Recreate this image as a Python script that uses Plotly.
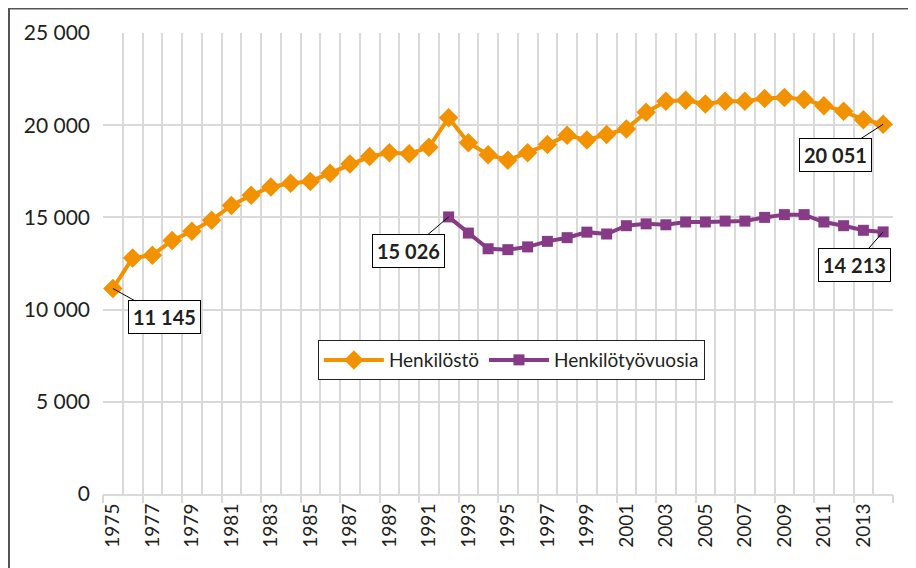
import plotly.graph_objects as go

years = list(range(1975, 2015))
henkilosto = [11145, 12800, 12950, 13750, 14250, 14850, 15650, 16200, 16650, 16850,
              16950, 17400, 17900, 18300, 18500, 18450, 18800, 20400, 19050, 18400,
              18100, 18500, 18950, 19450, 19200, 19500, 19800, 20700, 21300, 21350,
              21150, 21300, 21300, 21450, 21500, 21400, 21050, 20750, 20300, 20051]
tyovuosi_years = list(range(1992, 2015))
henkilotyovuosia = [15026, 14150, 13300, 13250, 13400, 13700, 13900, 14200, 14100, 14550,
                    14650, 14600, 14750, 14750, 14800, 14800, 15000, 15150, 15150, 14750,
                    14550, 14300, 14213]
tick_years = list(range(1975, 2014, 2))
y_ticks = [0, 5000, 10000, 15000, 20000, 25000]

ORANGE = "#F39200"
PURPLE = "#873B86"
GRID = "#D9D9D9"
TXT = "#231F20"
FONT = "Lato"

def fmt(v):
    return f"{v:,}".replace(",", " ")

fig = go.Figure()
fig.add_trace(go.Scatter(x=years, y=henkilosto, name="Henkilöstö", mode="lines+markers",
                         line=dict(color=ORANGE, width=4),
                         marker=dict(symbol="diamond", size=15, color=ORANGE)))
fig.add_trace(go.Scatter(x=tyovuosi_years, y=henkilotyovuosia, name="Henkilötyövuosia",
                         mode="lines+markers",
                         line=dict(color=PURPLE, width=4),
                         marker=dict(symbol="square", size=11, color=PURPLE)))

xrange = [years[0] - 0.5, years[-1] + 0.5]

ann = [
    (years[0], henkilosto[0], 52, 29),
    (tyovuosi_years[0], henkilotyovuosia[0], -40, 34),
    (years[-1], henkilosto[-1], -48, 31),
    (tyovuosi_years[-1], henkilotyovuosia[-1], -29, 33),
]
annotations = []
for x, y, ax, ay in ann:
    annotations.append(dict(x=x, y=y, xref="x", yref="y", text="<b>" + fmt(y) + "</b>",
                            showarrow=True, arrowhead=0, arrowwidth=1, arrowcolor="#000",
                            ax=ax, ay=ay, bgcolor="white", bordercolor="#000",
                            borderwidth=1, borderpad=4,
                            font=dict(family=FONT, size=20, color=TXT)))

fig.update_layout(
    width=908, height=560,
    margin=dict(l=95, r=23, t=25, b=74),
    paper_bgcolor="white", plot_bgcolor="white",
    font=dict(family=FONT, color=TXT),
    separators=", ",
    showlegend=True,
    legend=dict(orientation="h", x=0.272, y=0.334, xanchor="left", yanchor="top",
                bgcolor="white", bordercolor="#222", borderwidth=1,
                font=dict(family=FONT, size=19, color=TXT), itemwidth=60,
                traceorder="normal"),
    xaxis=dict(range=xrange, tickmode="array", tickvals=tick_years,
               ticktext=[str(t) for t in tick_years], tickangle=-90,
               tickfont=dict(family=FONT, size=19, color=TXT),
               showgrid=False, ticks="", zeroline=False,
               showline=True, linecolor=GRID, linewidth=2,
               minor=dict(tickmode="linear", tick0=xrange[0], dtick=1, showgrid=True,
                          gridcolor=GRID, gridwidth=2, ticks="")),
    xaxis2=dict(range=xrange, overlaying="x", anchor="y", side="bottom",
                tickmode="linear", tick0=xrange[0], dtick=2, ticks="outside",
                ticklen=8, tickwidth=2, tickcolor=GRID, showticklabels=False,
                showgrid=False, zeroline=False, showline=False),
    yaxis=dict(range=[0, 25000], tickmode="array", tickvals=y_ticks,
               ticktext=[fmt(v) for v in y_ticks],
               tickfont=dict(family=FONT, size=21, color=TXT),
               showgrid=True, gridcolor=GRID, gridwidth=2, zeroline=False,
               ticks="", ticklabelstandoff=12, showline=False),
    annotations=annotations,
    shapes=[dict(type="rect", xref="paper", yref="paper",
                 x0=-0.1190, x1=1.2, y0=-0.3, y1=1.0530,
                 line=dict(color="#555", width=2), fillcolor="rgba(0,0,0,0)",
                 layer="below")],
)
fig.add_trace(go.Scatter(x=[], y=[], xaxis="x2", showlegend=False, hoverinfo="skip"))

fig.write_html("out.html")
